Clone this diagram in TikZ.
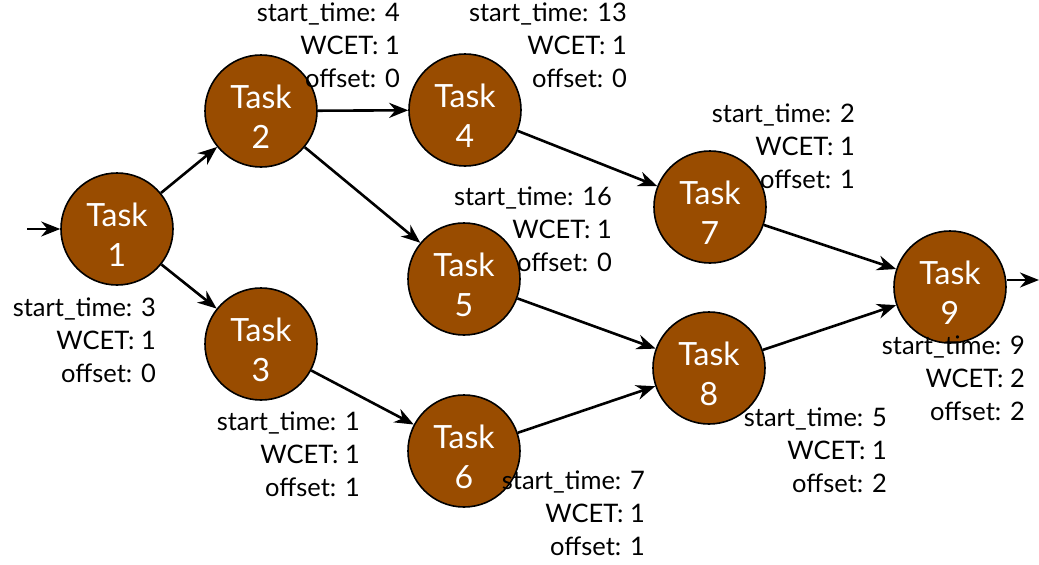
\documentclass[tikz,border=0pt]{standalone}
\usepackage{fontspec}
\setmainfont{Lato}
\usetikzlibrary{arrows.meta}
\definecolor{taskbrown}{HTML}{994C00}
\tikzset{
  task/.style={circle, draw=black, line width=1.6pt, fill=taskbrown,
    minimum size=112pt, inner sep=0pt},
  tasktext/.style={text=white, align=center, inner sep=0pt, font=\fontsize{32}{40}\selectfont},
  info/.style={anchor=north east, align=right, inner sep=0pt, font=\fontsize{25.5}{33}\selectfont},
  edge/.style={line width=2.6pt, -{Stealth[length=19pt,width=15pt]}}
}
\begin{document}
\begin{tikzpicture}[x=1pt,y=-1pt]
\useasboundingbox (0,0) rectangle (1039,565);
\node[task] (t1) at (117,229) {};
\node[task] (t2) at (261,111) {};
\node[task] (t3) at (261,344) {};
\node[task] (t4) at (465,110) {};
\node[task] (t5) at (464,279) {};
\node[task] (t6) at (464,451) {};
\node[task] (t7) at (710,207) {};
\node[task] (t8) at (709,368) {};
\node[task] (t9) at (950,287) {};
\foreach \t/\n in {t1/1,t2/2,t3/3,t4/4,t5/5,t6/6,t7/7,t8/8,t9/9}
  \node[tasktext] (\t txt) at ([yshift=-6pt]\t) {Task\\\n};
\coordinate (in) at (27,229);
\coordinate (out) at (1039,280);
\draw[edge] (in) -- (t1);
\draw[edge] (t9.east |- out) -- (out);
\draw[edge] (t1) -- (t2);
\draw[edge] (t1) -- (t3);
\draw[edge] (t2) -- (t4);
\draw[edge] (t2) -- (t5);
\draw[edge] (t4) -- (t7);
\draw[edge] (t3) -- (t6);
\draw[edge] (t5) -- (t8);
\draw[edge] (t6) -- (t8);
\draw[edge] (t7) -- (t9);
\draw[edge] (t8) -- (t9);
\node[info] (l1) at (156,298) {start\_time: 3\\WCET: 1\\offset: 0};
\node[info] (l2) at (400,3) {start\_time: 4\\WCET: 1\\offset: 0};
\node[info] (l4) at (627,3) {start\_time: 13\\WCET: 1\\offset: 0};
\node[info] (l7) at (855,104) {start\_time: 2\\WCET: 1\\offset: 1};
\node[info] (l5) at (612,187) {start\_time: 16\\WCET: 1\\offset: 0};
\node[info] (l3) at (360,412) {start\_time: 1\\WCET: 1\\offset: 1};
\node[info] (l6) at (645,471) {start\_time: 7\\WCET: 1\\offset: 1};
\node[info] (l8) at (887,408) {start\_time: 5\\WCET: 1\\offset: 2};
\node[info] (l9) at (1025,336) {start\_time: 9\\WCET: 2\\offset: 2};
\end{tikzpicture}
\end{document}
